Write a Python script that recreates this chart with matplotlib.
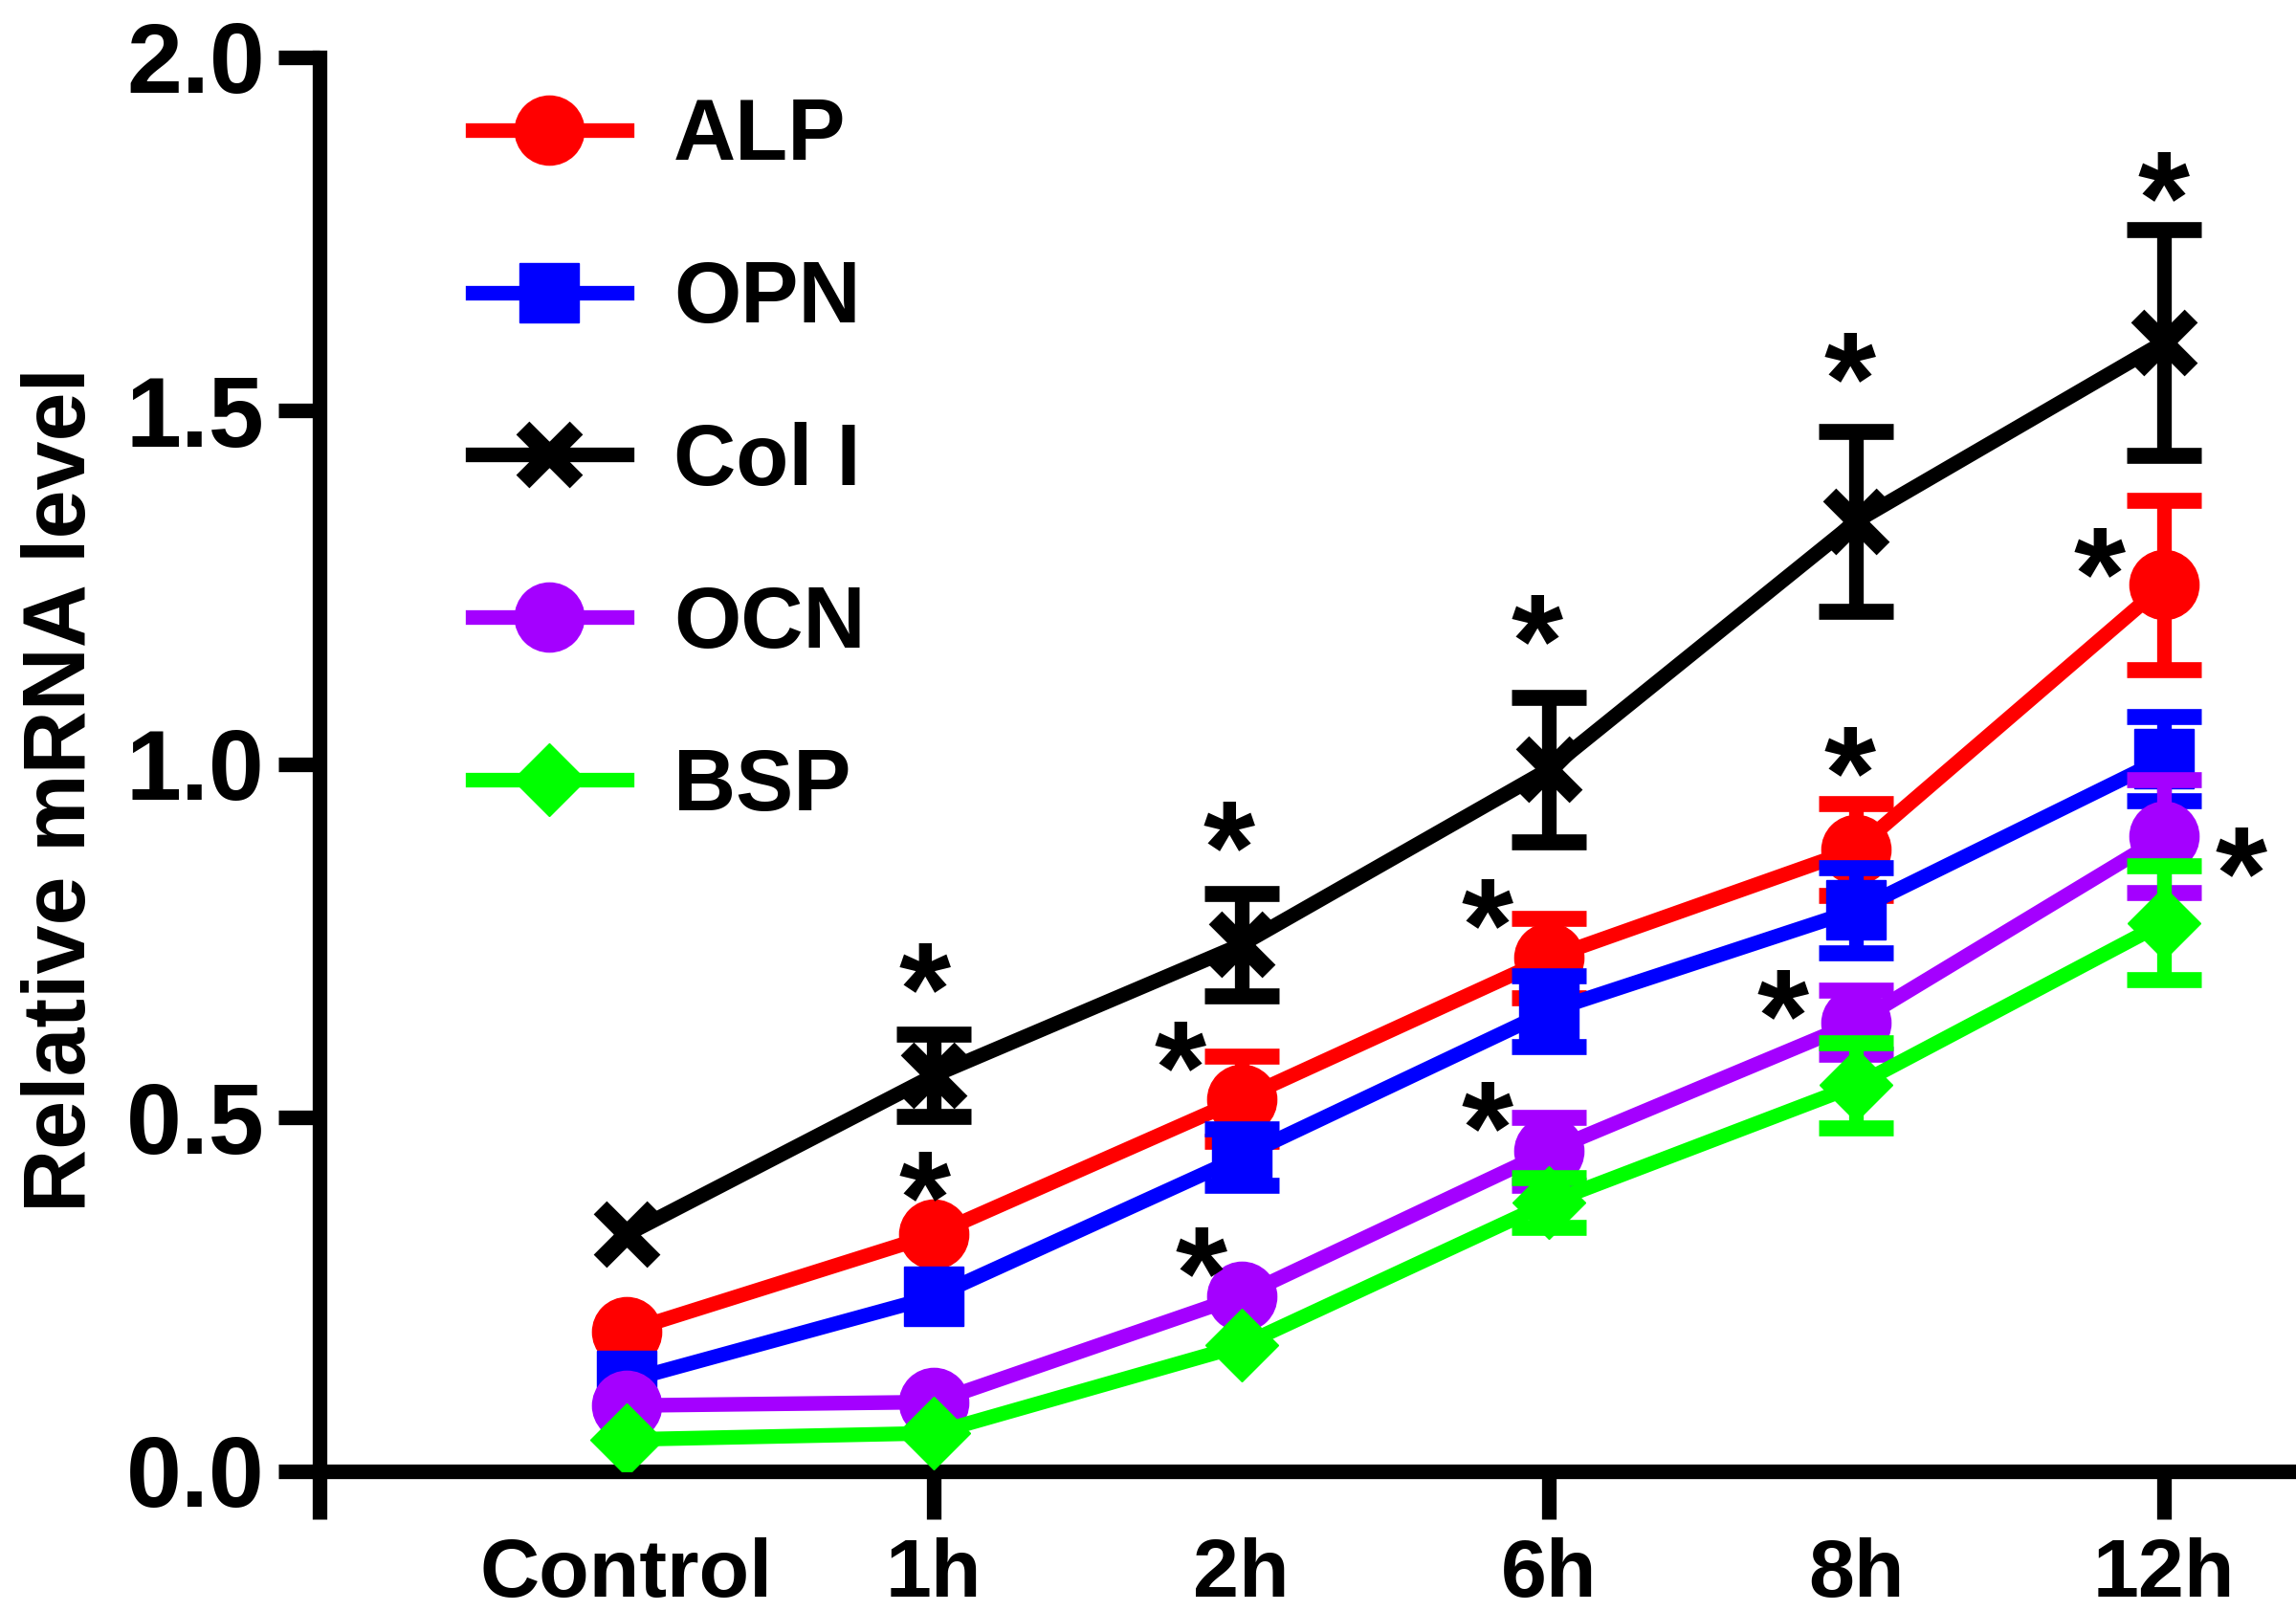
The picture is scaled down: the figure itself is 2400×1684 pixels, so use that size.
import numpy as np
import matplotlib
matplotlib.use('Agg')
import matplotlib.pyplot as plt
from matplotlib.transforms import offset_copy

plt.rcParams['font.family'] = ['Liberation Sans', 'DejaVu Sans']
plt.rcParams['font.weight'] = 'bold'

# data
groups = ['Control', '1h', '2h', '6h', '8h', '12h']
x = np.array([1, 2, 3, 4, 5, 6])

alp = [0.198, 0.335, 0.527, 0.726, 0.880, 1.254]
alp_err = [0.0, 0.0, 0.060, 0.056, 0.065, 0.120]
opn = [0.128, 0.247, 0.445, 0.651, 0.794, 1.008]
opn_err = [0.0, 0.0, 0.040, 0.050, 0.060, 0.060]
col1 = [0.335, 0.560, 0.745, 0.993, 1.344, 1.597]
col1_err = [0.0, 0.058, 0.072, 0.102, 0.127, 0.160]
ocn = [0.093, 0.098, 0.248, 0.453, 0.635, 0.898]
ocn_err = [0.0, 0.0, 0.0, 0.048, 0.045, 0.080]
bsp = [0.045, 0.054, 0.178, 0.380, 0.546, 0.776]
bsp_err = [0.0, 0.0, 0.0, 0.035, 0.060, 0.080]

# significance stars (centre of each *)
star_x = [1.97, 2.96, 3.96, 4.98, 6.00, 1.97, 2.80, 3.80, 4.98, 5.79, 2.87, 3.80, 4.76, 6.25]
star_y = [0.722, 0.922, 1.214, 1.585, 1.840, 0.426, 0.610, 0.812, 1.028, 1.309, 0.319, 0.525, 0.684, 0.885]

series = [
    ('ALP', alp, alp_err, '#FF0000', 'o', 52, 0),
    ('OPN', opn, opn_err, '#0000FF', 's', 45, 0),
    ('Col I', col1, col1_err, '#000000', 'x', 40, 14),
    ('OCN', ocn, ocn_err, '#A400FF', 'o', 52, 0),
    ('BSP', bsp, bsp_err, '#00FF00', 'D', 39, 0),
]
zorders = {'ALP': 4, 'OPN': 5, 'Col I': 3, 'OCN': 6, 'BSP': 7}

fig = plt.figure(figsize=(24, 16.84), dpi=100)
ax = fig.add_axes([0.139, 0.0867, 0.861, 0.8777])

handles = []
for name, vals, errs, col, mk, ms, mew in series:
    vals = np.array(vals)
    errs = np.array(errs)
    z = zorders[name]
    m = errs > 0
    ax.errorbar(x[m], vals[m], yerr=errs[m], fmt='none', ecolor=col,
                elinewidth=11, capsize=28, capthick=12, zorder=z)
    if mk == 'x':
        h, = ax.plot(x, vals, color=col, lw=11, marker=mk, ms=ms, mew=mew,
                     label=name, zorder=z)
    else:
        h, = ax.plot(x, vals, color=col, lw=11, marker=mk, ms=ms, mec=col,
                     mfc=col, label=name, zorder=z)
    handles.append(h)

star_fs = 100
star_tr = offset_copy(ax.transData, fig=fig, y=-0.55 * star_fs, units='points')
for sx, sy in zip(star_x, star_y):
    ax.text(sx, sy, '*', fontsize=star_fs, fontweight='bold', ha='center',
            va='baseline', transform=star_tr, zorder=10)

ax.set_xlim(0, 6.43)
ax.set_ylim(0, 2.0)
ax.set_yticks([0, 0.5, 1.0, 1.5, 2.0])
ax.set_yticklabels(['0.0', '0.5', '1.0', '1.5', '2.0'])
ax.xaxis.remove_overlapping_locs = False
ax.set_xticks([0, 2, 4, 6])
ax.set_xticklabels([])
ax.set_xticks(x, minor=True)
ax.set_xticklabels(groups, minor=True, fontsize=62, fontweight='bold')
ax.tick_params(axis='x', which='minor', length=0, pad=50)
ax.tick_params(axis='x', which='major', length=36, width=11, direction='out')
ax.tick_params(axis='y', which='major', length=31, width=11, direction='out',
               labelsize=75, pad=10)

for s in ['top', 'right']:
    ax.spines[s].set_visible(False)
for s in ['left', 'bottom']:
    ax.spines[s].set_linewidth(11)
    ax.spines[s].set_capstyle('projecting')

ax.set_ylabel('Relative mRNA level', fontsize=66, fontweight='bold')
ax.yaxis.set_label_coords(-0.109, 0.482)

leg = ax.legend(handles=handles, loc='upper left', bbox_to_anchor=(0.0774, 0.972),
                frameon=False, fontsize=65, handlelength=1.79, handletextpad=0.54,
                labelspacing=0.94, borderpad=0, borderaxespad=0, numpoints=1)
for t in leg.get_texts():
    t.set_fontweight('bold')

fig.savefig('out.png', dpi=100)
